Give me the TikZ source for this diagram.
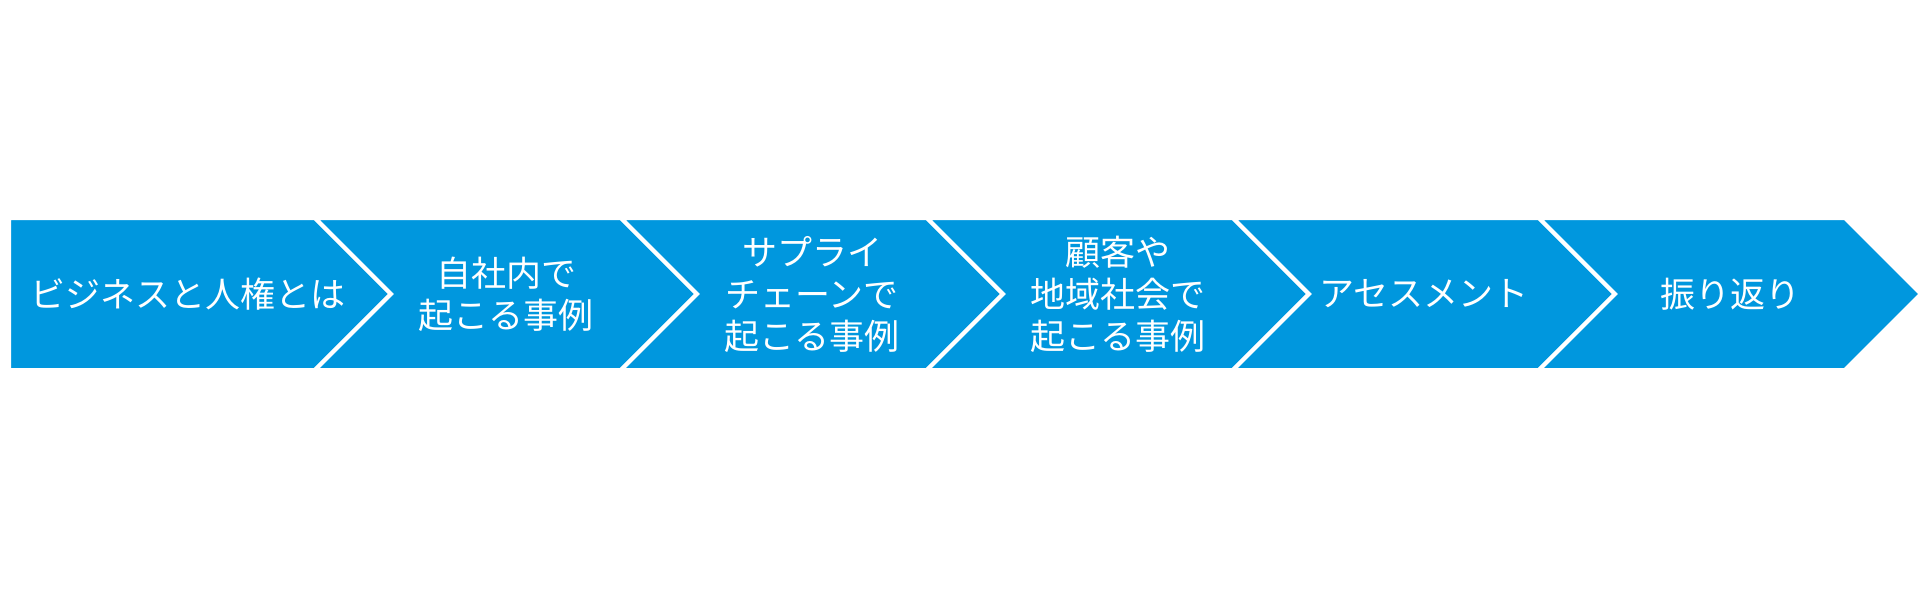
\documentclass[tikz,border=0pt]{standalone}
\usepackage{fontspec}
\newfontfamily\jp{Noto Sans CJK JP}
\definecolor{chev}{HTML}{0097DE}
\begin{document}
\begin{tikzpicture}[x=0.5pt,y=-0.5pt,
  chevshape/.style={fill=chev,draw=white,line width=2pt,line join=miter},
  lbl/.style={text=white,font=\jp\fontsize{17.5}{21}\selectfont,align=center,inner sep=0pt}]
\useasboundingbox (0,0) rectangle (1925,590);
% chevrons
\path[chevshape] (9,218) -- (315,218) -- (391,294) -- (315,370) -- (9,370) -- cycle;
\path[chevshape] (315,218) -- (621,218) -- (697,294) -- (621,370) -- (315,370) -- (391,294) -- cycle;
\path[chevshape] (621,218) -- (927,218) -- (1003,294) -- (927,370) -- (621,370) -- (697,294) -- cycle;
\path[chevshape] (927,218) -- (1233,218) -- (1309,294) -- (1233,370) -- (927,370) -- (1003,294) -- cycle;
\path[chevshape] (1233,218) -- (1539,218) -- (1615,294) -- (1539,370) -- (1233,370) -- (1309,294) -- cycle;
\path[chevshape] (1539,218) -- (1845,218) -- (1921,294) -- (1845,370) -- (1539,370) -- (1615,294) -- cycle;
% labels
\node[lbl] (l1) at (188,294) {ビジネスと人権とは};
\node[lbl] (l2) at (506,294) {自社内で\\起こる事例};
\node[lbl] (l3) at (812,294) {サプライ\\チェーンで\\起こる事例};
\node[lbl] (l4) at (1118,294) {顧客や\\地域社会で\\起こる事例};
\node[lbl] (l5) at (1424,294) {アセスメント};
\node[lbl] (l6) at (1730,294) {振り返り};
\end{tikzpicture}
\end{document}
